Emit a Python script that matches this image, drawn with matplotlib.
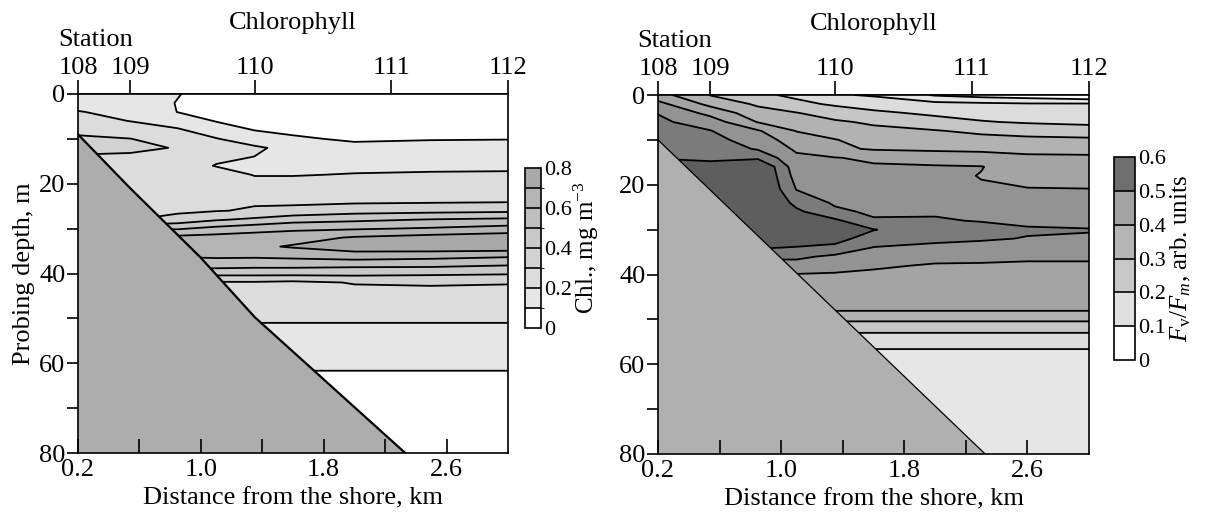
import numpy as np
import matplotlib
matplotlib.use('Agg')
import matplotlib.pyplot as plt
import matplotlib as mpl
from matplotlib.colors import ListedColormap, BoundaryNorm

plt.rcParams['font.family'] = ['Liberation Serif', 'DejaVu Serif']
plt.rcParams['mathtext.fontset'] = 'custom'
plt.rcParams['mathtext.rm'] = 'Liberation Serif'
plt.rcParams['mathtext.it'] = 'Liberation Serif:italic'

# stations along the transect
station_km = [0.2, 0.54, 1.35, 2.24, 3.0]
station_no = ['108', '109', '110', '111', '112']

# sampling depths (m), same for every profile
depth = [0, 2, 4, 6, 8, 10, 12, 14, 16, 18, 21, 24, 26, 28, 30, 32, 34, 36, 38, 40, 42,
         45, 48, 50, 52, 54, 57, 60, 65, 80]

# chlorophyll profiles, mg m-3
chl_x = [0.2, 0.54, 0.85, 1.1, 1.35, 1.6, 2.0, 2.5, 3.0]
chl_deep = [0.27, 0.235, 0.21, 0.19, 0.175, 0.15, 0.105, 0.09, 0.05]
chl_020 = [0.15, 0.176, 0.203, 0.235, 0.27, 0.32, 0.33, 0.29, 0.27, 0.27, 0.27, 0.27, 0.28, 0.29, 0.405, 0.605, 0.65, 0.61, 0.55, 0.45, 0.29] + chl_deep
chl_054 = [0.15, 0.166, 0.182, 0.198, 0.245, 0.302, 0.32, 0.285, 0.27, 0.27, 0.27, 0.27, 0.28, 0.295, 0.48, 0.62, 0.66, 0.61, 0.55, 0.45, 0.29] + chl_deep
chl_085 = [0.105, 0.095, 0.098, 0.155, 0.21, 0.255, 0.295, 0.26, 0.25, 0.25, 0.25, 0.26, 0.28, 0.34, 0.49, 0.63, 0.67, 0.61, 0.55, 0.45, 0.29] + chl_deep
chl_110 = [0.05, 0.06, 0.075, 0.095, 0.15, 0.205, 0.25, 0.22, 0.195, 0.25, 0.27, 0.28, 0.295, 0.39, 0.53, 0.64, 0.67, 0.62, 0.55, 0.43, 0.29] + chl_deep
chl_135 = [0.04, 0.05, 0.06, 0.075, 0.097, 0.15, 0.215, 0.199, 0.17, 0.195, 0.25, 0.29, 0.31, 0.42, 0.56, 0.65, 0.68, 0.62, 0.54, 0.43, 0.29] + chl_deep
chl_160 = [0.03, 0.04, 0.05, 0.065, 0.085, 0.11, 0.17, 0.185, 0.17, 0.195, 0.25, 0.28, 0.33, 0.46, 0.58, 0.66, 0.71, 0.63, 0.54, 0.43, 0.28] + chl_deep
chl_200 = [0.02, 0.03, 0.04, 0.055, 0.07, 0.09, 0.12, 0.15, 0.175, 0.205, 0.25, 0.285, 0.36, 0.48, 0.59, 0.71, 0.75, 0.66, 0.53, 0.43, 0.305] + chl_deep
chl_250 = [0.02, 0.03, 0.04, 0.055, 0.07, 0.095, 0.13, 0.16, 0.18, 0.21, 0.25, 0.29, 0.37, 0.505, 0.61, 0.74, 0.77, 0.64, 0.53, 0.42, 0.31] + chl_deep
chl_300 = [0.02, 0.03, 0.04, 0.055, 0.075, 0.097, 0.135, 0.16, 0.185, 0.21, 0.25, 0.295, 0.38, 0.52, 0.64, 0.76, 0.77, 0.62, 0.51, 0.41, 0.305] + chl_deep

# Fv/Fm profiles, arb. units (right panel)
fv_x = [0.2, 0.54, 0.85, 1.1, 1.35, 1.6, 2.0, 2.3, 2.6, 3.0]
fv_deep = [0.37, 0.352, 0.31, 0.265, 0.235, 0.195, 0.185, 0.18, 0.17]
fv_020 = [0.37, 0.415, 0.448, 0.46, 0.47, 0.48, 0.49, 0.498, 0.52, 0.54, 0.55, 0.55, 0.55, 0.55, 0.55, 0.54, 0.505, 0.455, 0.42, 0.39, 0.38] + fv_deep
fv_054 = [0.298, 0.336, 0.385, 0.425, 0.452, 0.467, 0.48, 0.494, 0.51, 0.53, 0.55, 0.56, 0.56, 0.56, 0.56, 0.55, 0.51, 0.46, 0.43, 0.402, 0.38] + fv_deep
fv_085 = [0.26, 0.292, 0.32, 0.347, 0.405, 0.425, 0.445, 0.49, 0.56, 0.565, 0.57, 0.57, 0.57, 0.57, 0.56, 0.54, 0.505, 0.46, 0.43, 0.402, 0.38] + fv_deep
fv_110 = [0.24, 0.262, 0.302, 0.326, 0.348, 0.375, 0.392, 0.41, 0.42, 0.43, 0.448, 0.485, 0.51, 0.54, 0.55, 0.53, 0.497, 0.46, 0.43, 0.398, 0.38] + fv_deep
fv_135 = [0.205, 0.243, 0.276, 0.307, 0.328, 0.352, 0.36, 0.402, 0.415, 0.425, 0.435, 0.443, 0.46, 0.51, 0.53, 0.515, 0.49, 0.44, 0.42, 0.395, 0.38] + fv_deep
fv_160 = [0.195, 0.227, 0.26, 0.292, 0.313, 0.33, 0.345, 0.392, 0.405, 0.415, 0.425, 0.435, 0.442, 0.455, 0.502, 0.48, 0.448, 0.43, 0.408, 0.39, 0.38] + fv_deep
fv_200 = [0.145, 0.215, 0.24, 0.27, 0.303, 0.325, 0.342, 0.375, 0.405, 0.415, 0.425, 0.435, 0.444, 0.455, 0.47, 0.46, 0.44, 0.417, 0.395, 0.385, 0.378] + fv_deep
fv_230 = [0.13, 0.21, 0.232, 0.253, 0.29, 0.316, 0.34, 0.37, 0.402, 0.398, 0.405, 0.425, 0.437, 0.447, 0.47, 0.455, 0.435, 0.412, 0.395, 0.385, 0.378] + fv_deep
fv_260 = [0.12, 0.205, 0.226, 0.245, 0.28, 0.312, 0.338, 0.358, 0.37, 0.385, 0.402, 0.42, 0.432, 0.44, 0.455, 0.448, 0.43, 0.408, 0.393, 0.385, 0.378] + fv_deep
fv_300 = [0.10, 0.205, 0.222, 0.24, 0.27, 0.31, 0.338, 0.356, 0.368, 0.38, 0.401, 0.418, 0.428, 0.437, 0.452, 0.446, 0.425, 0.408, 0.393, 0.385, 0.378] + fv_deep

# bottom profile (m)
bed_chl_x = [0.2, 0.54, 1.0, 1.35, 2.24, 3.0]
bed_chl_z = [9, 21, 36.5, 49.7, 77.2, 100.6]
bed_fv_x = [0.2, 0.54, 1.35, 2.24, 3.0]
bed_fv_z = [10, 21.2, 47.9, 77.2, 102]

chl_levels = [0, 0.1, 0.2, 0.3, 0.4, 0.5, 0.6, 0.7, 0.8]
chl_colors = ['#ffffff', '#e6e6e6', '#dcdcdc', '#d2d2d2', '#c8c8c8', '#bebebe', '#b4b4b4', '#a9a9a9']
fv_levels = [0, 0.15, 0.2, 0.25, 0.3, 0.35, 0.4, 0.45, 0.5, 0.6]
fv_colors = ['#ffffff', '#e6e6e6', '#dcdcdc', '#c6c6c6', '#b2b2b2', '#a4a4a4', '#939393', '#7b7b7b', '#5e5e5e']
fv_cbar_levels = [0, 0.1, 0.2, 0.3, 0.4, 0.5, 0.6]
fv_cbar_colors = ['#ffffff', '#e0e0e0', '#c8c8c8', '#b5b5b5', '#a3a3a3', '#6e6e6e']

FS = 19
fig = plt.figure(figsize=(12.12, 5.13), dpi=100)
ax1 = fig.add_axes([78 / 1212, 1 - 453 / 513, 430 / 1212, 359 / 513])
ax2 = fig.add_axes([658 / 1212, 1 - 454 / 513, 431 / 1212, 359 / 513])


def panel(ax, xs, cols, levels, colors, bed_x, bed_z, bed_col, bed_lw):
    z = np.column_stack(cols)
    ax.contourf(xs, depth, z, levels=levels, colors=colors, zorder=1)
    ax.contour(xs, depth, z, levels=levels[1:-1], colors='k', linewidths=1.3, zorder=1.5)
    # seabed sits above the contours but under the tick marks
    ax.fill_between(bed_x, bed_z, 200, color=bed_col, lw=0, zorder=2)
    ax.plot(bed_x, bed_z, color='k', lw=bed_lw, zorder=2.1)
    ax.set_axisbelow(False)
    ax.set_xlim(0.2, 3.0)
    ax.set_ylim(80, 0)
    ax.set_xticks([0.2, 0.6, 1.0, 1.4, 1.8, 2.2, 2.6], ['0.2', '', '1.0', '', '1.8', '', '2.6'])
    ax.set_yticks([0, 20, 40, 60, 80])
    ax.set_yticks([10, 30, 50, 70], minor=True)
    ax.tick_params(axis='x', direction='in', length=10, width=1.2, labelsize=FS, pad=4, top=False)
    ax.tick_params(axis='y', which='both', direction='out', length=8, width=1.2, labelsize=FS, pad=1)
    for s in ax.spines.values():
        s.set_linewidth(1.2)
    sec = ax.secondary_xaxis('top')
    sec.set_xticks(station_km, station_no)
    sec.tick_params(direction='out', length=10, width=1.2, labelsize=FS, pad=1)
    sec.spines['top'].set_linewidth(1.2)
    ax.text(-0.047, 1.15, 'Station', transform=ax.transAxes, fontsize=FS, ha='left', va='center')
    ax.text(0.5, 1.198, 'Chlorophyll', transform=ax.transAxes, fontsize=FS, ha='center', va='center')
    ax.set_xlabel('Distance from the shore, km', fontsize=FS, labelpad=5)


panel(ax1, chl_x, [chl_020, chl_054, chl_085, chl_110, chl_135, chl_160, chl_200, chl_250, chl_300],
      chl_levels, chl_colors, bed_chl_x, bed_chl_z, '#adadad', 1.6)
panel(ax2, fv_x, [fv_020, fv_054, fv_085, fv_110, fv_135, fv_160, fv_200, fv_230, fv_260, fv_300],
      fv_levels, fv_colors, bed_fv_x, bed_fv_z, '#b0b0b0', 0.9)
ax1.set_ylabel('Probing depth, m', fontsize=FS)
ax1.yaxis.set_label_coords(-0.1, 0.5)


def cbar(rect, levels, colors, ticks, labels, title, pad):
    cax = fig.add_axes(rect)
    cmap = ListedColormap(colors)
    norm = BoundaryNorm(levels, cmap.N)
    cb = fig.colorbar(mpl.cm.ScalarMappable(norm=norm, cmap=cmap), cax=cax, ticks=ticks, drawedges=True)
    cb.ax.set_yticklabels(labels)
    cb.ax.tick_params(length=0, labelsize=16, pad=2)
    cb.outline.set_linewidth(1.2)
    cb.dividers.set_linewidth(1.2)
    cb.set_label(title, fontsize=FS - 1, labelpad=pad)
    return cb


cbar([525 / 1212, 1 - 328 / 513, 16 / 1212, 160 / 513], chl_levels, chl_colors,
     [0, 0.2, 0.4, 0.6, 0.8], ['0', '0.2', '0.4', '0.6', '0.8'], 'Chl., mg m$^{-3}$', 0)
cbar([1114 / 1212, 1 - 360 / 513, 21 / 1212, 203 / 513], fv_cbar_levels, fv_cbar_colors,
     fv_cbar_levels, ['0', '0.1', '0.2', '0.3', '0.4', '0.5', '0.6'], r'$F_{\rm v}/F_m$, arb. units', 2)

fig.savefig('out.png', dpi=100)
